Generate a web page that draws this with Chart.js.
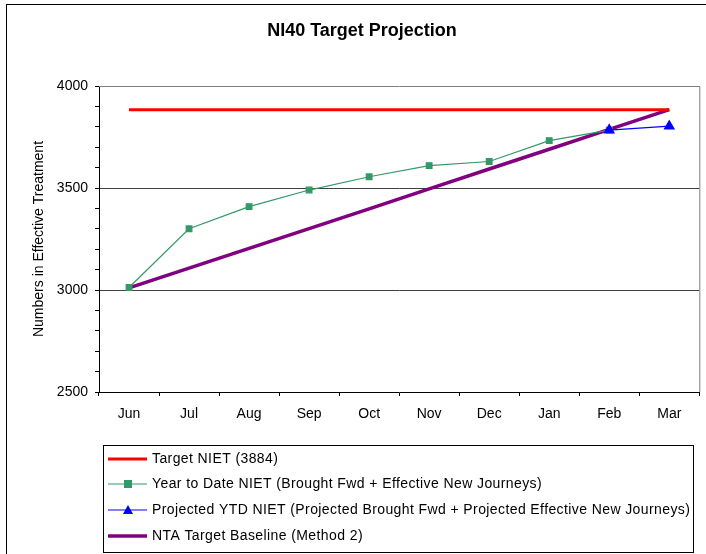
<!DOCTYPE html>
<html>
<head>
<meta charset="utf-8">
<script src="https://cdn.jsdelivr.net/npm/chart.js@4.4.1/dist/chart.umd.min.js"></script>
<style>
    body { margin: 0; background: #fff; }
    canvas { display: block; }
</style>
</head>
<body>
<canvas id="niet" width="706" height="554"></canvas>
<script>
// chart data
const months = ["Jun", "Jul", "Aug", "Sep", "Oct", "Nov", "Dec", "Jan", "Feb", "Mar"];
const targetNiet = [3884, 3884, 3884, 3884, 3884, 3884, 3884, 3884, 3884, 3884];
const ytdNiet = [3012, 3300, 3409, 3490, 3555, 3610, 3630, 3732, 3784, null];
const projectedNiet = [null, null, null, null, null, null, null, null, 3784, 3803];
const ntaBaseline = [3010, 3107, 3204, 3301, 3398, 3496, 3593, 3690, 3787, 3884];
const yTicks = [2500, 3000, 3500, 4000];

const seriesLabels = [
    "Target NIET (3884)",
    "Year to Date NIET (Brought Fwd + Effective New Journeys)",
    "Projected YTD NIET (Projected Brought Fwd + Projected Effective New Journeys)",
    "NTA Target Baseline (Method 2)"
];

const fontFamily = "'Liberation Sans', Arial, sans-serif";

// frame, title, plot border and the boxed legend under the plot
const excelFrame = {
    id: 'excelFrame',
    beforeDraw: (chart) => {
        const ctx = chart.ctx;
        ctx.save();
        ctx.fillStyle = '#fff';
        ctx.fillRect(0, 0, chart.width, chart.height);
        ctx.strokeStyle = '#000';
        ctx.lineWidth = 1;
        ctx.strokeRect(6.5, 4.5, 760, 600);
        ctx.fillStyle = '#000';
        ctx.font = "bold 18px " + fontFamily;
        ctx.textAlign = 'center';
        ctx.textBaseline = 'middle';
        ctx.fillText("NI40 Target Projection", 362, 31);
        ctx.restore();
    },
    beforeDatasetsDraw: (chart) => {
        const ctx = chart.ctx;
        const area = chart.chartArea;
        ctx.save();
        ctx.strokeStyle = '#808080';
        ctx.lineWidth = 1;
        ctx.beginPath();
        ctx.moveTo(area.left, area.top + 0.5);
        ctx.lineTo(area.right + 0.5, area.top + 0.5);
        ctx.lineTo(area.right + 0.5, area.bottom);
        ctx.stroke();
        ctx.restore();
    },
    afterDraw: (chart) => {
        const ctx = chart.ctx;
        ctx.save();
        ctx.strokeStyle = '#000';
        ctx.lineWidth = 1;
        ctx.strokeRect(103.5, 445.5, 590, 107);
        ctx.font = "14px " + fontFamily;
        ctx.letterSpacing = '0.4px';
        ctx.textBaseline = 'middle';
        ctx.textAlign = 'left';
        const rows = [459, 484, 510, 536];
        chart.data.datasets.forEach((ds, i) => {
            const y = rows[i];
            ctx.strokeStyle = ds.borderColor;
            ctx.lineWidth = ds.borderWidth;
            ctx.beginPath();
            ctx.moveTo(108, y);
            ctx.lineTo(147, y);
            ctx.stroke();
            ctx.fillStyle = ds.borderColor;
            if (ds.pointStyle === 'rect') {
                ctx.fillStyle = ds.pointBackgroundColor;
                ctx.fillRect(124, y - 4, 8, 8);
            } else if (ds.pointStyle === 'triangle') {
                ctx.beginPath();
                ctx.moveTo(128, y - 5);
                ctx.lineTo(133, y + 4);
                ctx.lineTo(123, y + 4);
                ctx.closePath();
                ctx.fill();
            }
            ctx.fillStyle = '#000';
            ctx.fillText(ds.label, 152, y);
        });
        ctx.restore();
    }
};

const ctx = document.getElementById('niet').getContext('2d');
const nietChart = new Chart(ctx, {
    type: 'line',
    data: {
        labels: months,
        datasets: [{
            label: seriesLabels[0],
            data: targetNiet,
            borderColor: '#FF0000',
            borderWidth: 3,
            pointRadius: 0,
            order: 2
        }, {
            label: seriesLabels[1],
            data: ytdNiet,
            borderColor: '#339966',
            backgroundColor: '#339966',
            pointBackgroundColor: '#339966',
            pointBorderColor: '#339966',
            borderWidth: 1.2,
            pointStyle: 'rect',
            pointRadius: 4,
            order: 1
        }, {
            label: seriesLabels[2],
            data: projectedNiet,
            borderColor: '#0000FF',
            backgroundColor: '#0000FF',
            pointBackgroundColor: '#0000FF',
            pointBorderColor: '#0000FF',
            borderWidth: 1.2,
            pointStyle: 'triangle',
            pointRadius: 5.5,
            order: 0
        }, {
            label: seriesLabels[3],
            data: ntaBaseline,
            borderColor: '#800080',
            borderWidth: 3.5,
            pointRadius: 0,
            order: 3
        }]
    },
    plugins: [excelFrame],
    options: {
        responsive: false,
        animation: false,
        devicePixelRatio: 1,
        layout: {
            padding: { left: 0, top: 86, right: 6, bottom: 0 }
        },
        elements: {
            line: { tension: 0, fill: false }
        },
        plugins: {
            legend: { display: false },
            title: { display: false },
            tooltip: { enabled: false }
        },
        scales: {
            x: {
                offset: true,
                afterFit: (scale) => { scale.height = 162; },
                grid: {
                    offset: true,
                    drawOnChartArea: false,
                    color: '#000',
                    tickLength: 4
                },
                border: { color: '#000', width: 1 },
                ticks: {
                    color: '#000',
                    font: { family: fontFamily, size: 14 },
                    padding: 10,
                    maxRotation: 0,
                    autoSkip: false
                }
            },
            y: {
                min: yTicks[0],
                max: yTicks[yTicks.length - 1],
                afterFit: (scale) => { scale.width = 99; },
                title: {
                    display: true,
                    text: "Numbers in Effective Treatment",
                    color: '#000',
                    font: { family: fontFamily, size: 14 },
                    padding: { top: 31, bottom: 0 }
                },
                grid: {
                    color: (c) => (c.tick && yTicks.indexOf(c.tick.value) > 0 && c.tick.value < 4000) ? '#404040' : 'rgba(0,0,0,0)',
                    tickColor: '#000',
                    tickLength: 4
                },
                border: { color: '#000', width: 1 },
                ticks: {
                    stepSize: 100,
                    autoSkip: false,
                    color: '#000',
                    padding: 7,
                    font: { family: fontFamily, size: 14 },
                    callback: (value) => yTicks.indexOf(value) >= 0 ? value : ''
                }
            }
        }
    }
});
</script>
</body>
</html>
